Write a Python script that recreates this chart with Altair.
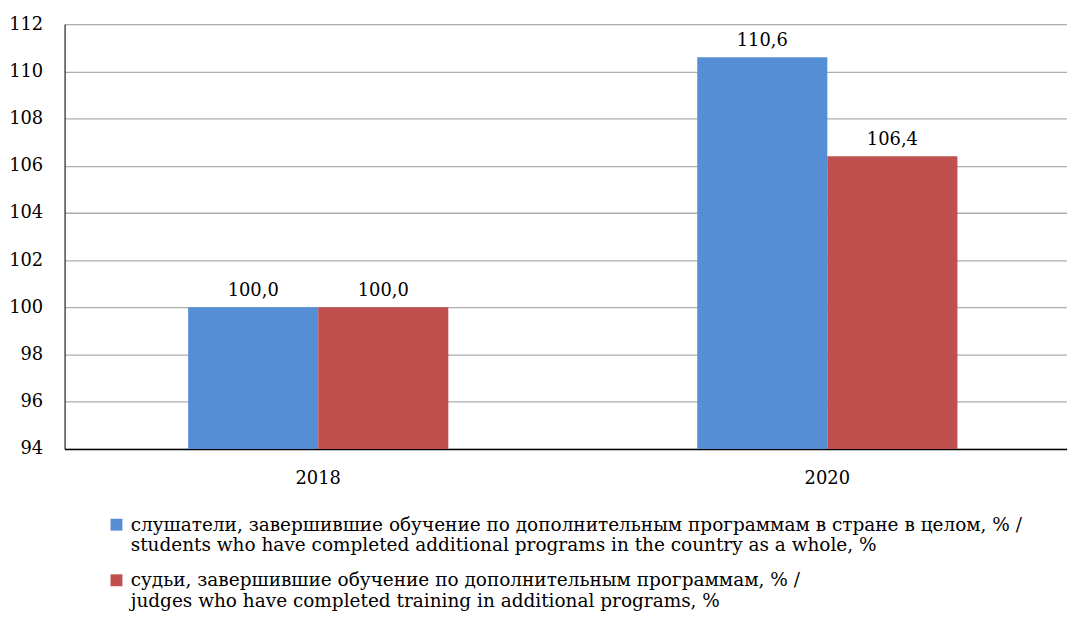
import altair as alt
import pandas as pd

years = ["2018", "2020"]
series = [
    "слушатели, завершившие обучение по дополнительным программам в стране в целом, % /|students who have completed additional programs in the country as a whole, %",
    "судьи, завершившие обучение по дополнительным программам, % /|judges who have completed training in additional programs, %",
]
students = [100.0, 110.6]
judges = [100.0, 106.4]
colors = ["#558ED5", "#C0504D"]

rows = []
for i, y in enumerate(years):
    rows.append({"year": y, "series": series[0], "value": students[i]})
    rows.append({"year": y, "series": series[1], "value": judges[i]})
df = pd.DataFrame(rows)

FONT = "DejaVu Serif"
FS = 18

base = alt.Chart(df).transform_calculate(
    label="replace(format(datum.value, '.1f'), '.', ',')"
)

x = alt.X("year:N", title=None, sort=years,
          scale=alt.Scale(paddingInner=0.489, paddingOuter=0.229, align=0.53),
          axis=alt.Axis(labelAngle=0, labelFont=FONT, labelFontSize=FS, labelColor="black",
                        ticks=False, domainColor="black", domainWidth=1.5, labelPadding=21))
xo = alt.XOffset("series:N", sort=series, scale=alt.Scale(paddingInner=0, paddingOuter=0))
y = alt.Y("value:Q", title=None,
          scale=alt.Scale(domain=[94, 112], nice=False, zero=False),
          axis=alt.Axis(values=list(range(94, 113, 2)), labelFont=FONT, labelFontSize=FS,
                        labelColor="black", ticks=False, domainColor="black", domainWidth=1,
                        gridColor="#ADADAD", gridWidth=1.3, labelPadding=22))

bars = base.mark_bar(clip=True).encode(
    x=x, xOffset=xo, y=y, y2=alt.datum(94),
    color=alt.Color("series:N", sort=series,
                    scale=alt.Scale(domain=series, range=colors),
                    legend=alt.Legend(title=None, orient="none", legendX=43, legendY=495,
                                      symbolType="square", symbolSize=144, symbolStrokeWidth=0,
                                      labelFont=FONT, labelFontSize=18.6, labelColor="black",
                                      labelLimit=0, labelExpr="split(datum.label, '|')",
                                      rowPadding=16, symbolOffset=0, labelOffset=5,
                                      direction="vertical")),
)

text = base.mark_text(font=FONT, fontSize=FS, color="black", baseline="alphabetic", dy=-11).encode(
    x=x, xOffset=xo, y=y, text="label:N"
)

chart = alt.layer(bars, text).properties(
    width=1010, height=428,
    autosize=alt.AutoSizeParams(type="none"),
    padding={"left": 57, "top": 14, "right": 0, "bottom": 165},
).configure_view(stroke=None).configure(background="white")

chart.save("out.html", embed_options={"renderer": "svg", "actions": False})
